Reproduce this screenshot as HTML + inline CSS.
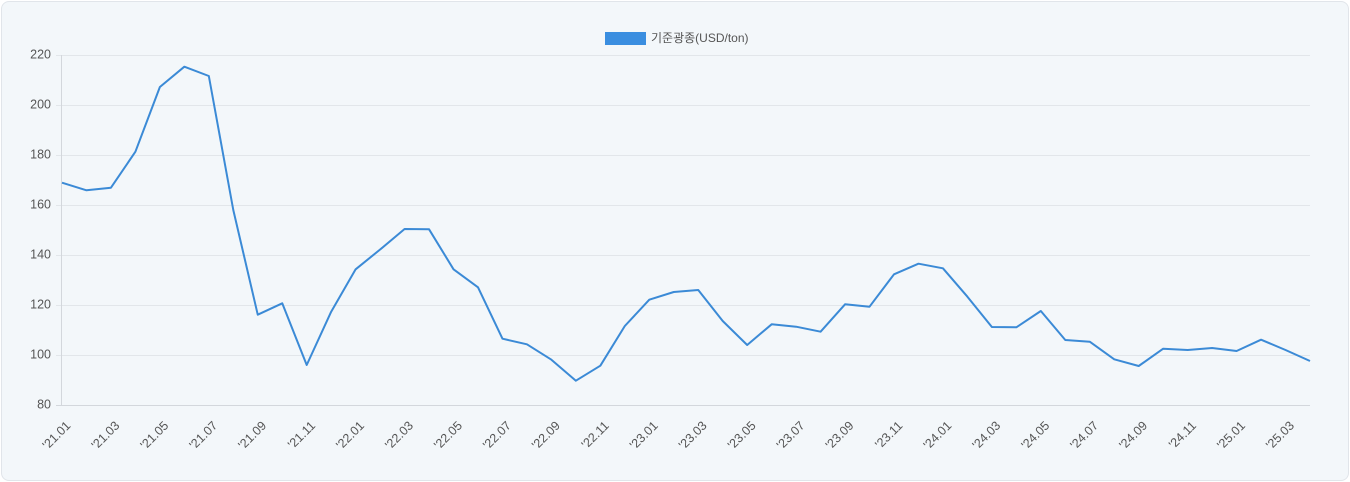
<!DOCTYPE html>
<html><head><meta charset="utf-8"><style>
html,body{margin:0;padding:0;background:#fff;}
body{width:1350px;height:482px;overflow:hidden;}
.card{position:absolute;left:1px;top:1px;width:1346px;height:478px;background:#f3f7fa;border:1px solid #e1e5ea;border-radius:8px;}
svg{position:absolute;left:0;top:0;}
text{font-family:"Liberation Sans","Noto Sans CJK KR",sans-serif;}
</style></head><body>
<div class="card"></div>
<svg width="1350" height="482" viewBox="0 0 1350 482">
<g stroke="#e2e6ea" stroke-width="1">
<line x1="56" y1="55.5" x2="1310" y2="55.5"/>
<line x1="56" y1="105.5" x2="1310" y2="105.5"/>
<line x1="56" y1="155.5" x2="1310" y2="155.5"/>
<line x1="56" y1="205.5" x2="1310" y2="205.5"/>
<line x1="56" y1="255.5" x2="1310" y2="255.5"/>
<line x1="56" y1="305.5" x2="1310" y2="305.5"/>
<line x1="56" y1="355.5" x2="1310" y2="355.5"/>
</g>
<line x1="56" y1="405.5" x2="1310" y2="405.5" stroke="#d3d7dc" stroke-width="1"/>
<line x1="61.5" y1="55" x2="61.5" y2="406" stroke="#d3d7dc" stroke-width="1"/>
<g font-size="12.5" fill="#555" text-anchor="end" dominant-baseline="middle">
<text x="51" y="55">220</text>
<text x="51" y="105">200</text>
<text x="51" y="155">180</text>
<text x="51" y="205">160</text>
<text x="51" y="255">140</text>
<text x="51" y="305">120</text>
<text x="51" y="355">100</text>
<text x="51" y="405">80</text>
</g>
<g font-size="12.5" fill="#555" text-anchor="end" dominant-baseline="middle">
<text transform="translate(69,424) rotate(-45)">'21.01</text>
<text transform="translate(117.94,424) rotate(-45)">'21.03</text>
<text transform="translate(166.88,424) rotate(-45)">'21.05</text>
<text transform="translate(215.82,424) rotate(-45)">'21.07</text>
<text transform="translate(264.76,424) rotate(-45)">'21.09</text>
<text transform="translate(313.71,424) rotate(-45)">'21.11</text>
<text transform="translate(362.65,424) rotate(-45)">'22.01</text>
<text transform="translate(411.59,424) rotate(-45)">'22.03</text>
<text transform="translate(460.53,424) rotate(-45)">'22.05</text>
<text transform="translate(509.47,424) rotate(-45)">'22.07</text>
<text transform="translate(558.41,424) rotate(-45)">'22.09</text>
<text transform="translate(607.35,424) rotate(-45)">'22.11</text>
<text transform="translate(656.29,424) rotate(-45)">'23.01</text>
<text transform="translate(705.24,424) rotate(-45)">'23.03</text>
<text transform="translate(754.18,424) rotate(-45)">'23.05</text>
<text transform="translate(803.12,424) rotate(-45)">'23.07</text>
<text transform="translate(852.06,424) rotate(-45)">'23.09</text>
<text transform="translate(901,424) rotate(-45)">'23.11</text>
<text transform="translate(949.94,424) rotate(-45)">'24.01</text>
<text transform="translate(998.88,424) rotate(-45)">'24.03</text>
<text transform="translate(1047.82,424) rotate(-45)">'24.05</text>
<text transform="translate(1096.76,424) rotate(-45)">'24.07</text>
<text transform="translate(1145.71,424) rotate(-45)">'24.09</text>
<text transform="translate(1194.65,424) rotate(-45)">'24.11</text>
<text transform="translate(1243.59,424) rotate(-45)">'25.01</text>
<text transform="translate(1292.53,424) rotate(-45)">'25.03</text>
</g>
<rect x="605" y="32" width="41" height="13" fill="#3a8ee0"/>
<text x="651" y="39" font-size="12" fill="#555" dominant-baseline="middle">기준광종(USD/ton)</text>
<polyline fill="none" stroke="#3b8ad6" stroke-width="2" stroke-linejoin="round" points="
62,182.7 86.47,190.3 110.94,187.7 135.41,151.7 159.88,87 184.35,66.7 208.82,76 233.29,210 257.76,314.7 282.24,303.3
306.71,365 331.18,311.7 355.65,269.3 380.12,249.5 404.59,229 429.06,229.3 453.53,269.3 478,287.3 502.47,338.7 526.94,344.3
551.41,359.7 575.88,380.7 600.35,365.7 624.82,326 649.29,299.7 673.76,292 698.24,290 722.71,321 747.18,345 771.65,324.3
796.12,326.7 820.59,331.7 845.06,304.3 869.53,306.7 894,274.3 918.47,263.7 942.94,268.3 967.41,296.7 991.88,327 1016.35,327.3
1040.82,311 1065.29,340 1089.76,341.7 1114.24,359.3 1138.71,366 1163.18,348.7 1187.65,350 1212.12,348 1236.59,351 1261.06,339.7
1285.53,350 1310,361"/>
</svg>
</body></html>
